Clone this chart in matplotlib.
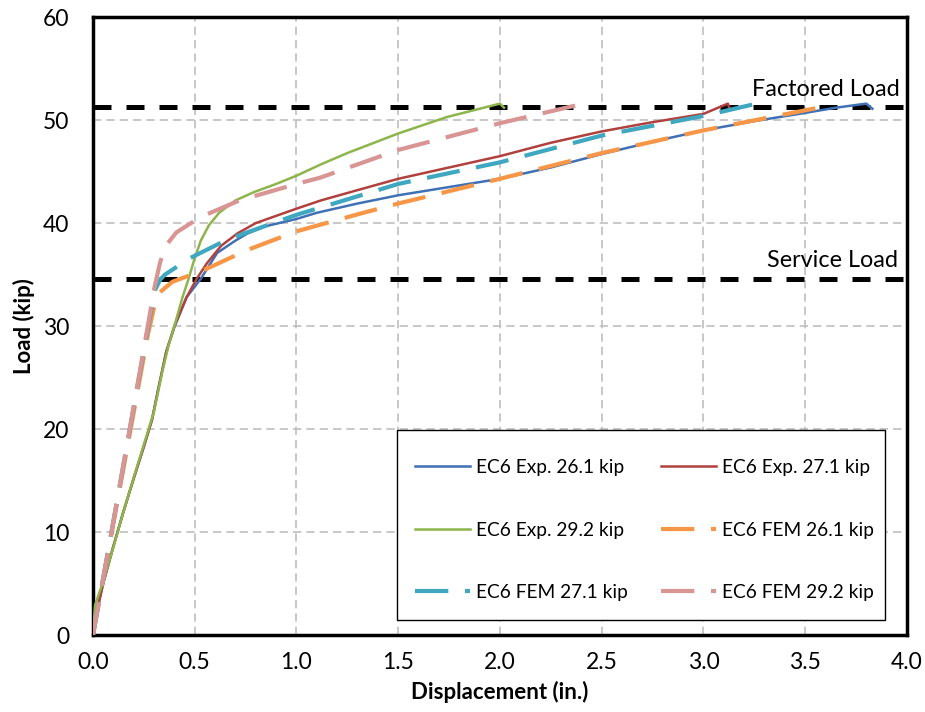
import matplotlib
matplotlib.use('Agg')
import matplotlib.pyplot as plt
from matplotlib.patches import Rectangle

plt.rcParams['font.family'] = ['Lato', 'DejaVu Sans']

# load levels (kip)
factored_load = 51.3
service_load = 34.6

# EC6 experiments, displacement (in.) vs load (kip)
exp261_x = [0, 0.02, 0.05, 0.10, 0.15, 0.20, 0.25, 0.29, 0.32, 0.36, 0.40, 0.46, 0.53, 0.61, 0.70, 0.76, 0.85, 1.00, 1.10, 1.30, 1.50, 1.75, 2.00, 2.25, 2.50, 2.75, 3.00, 3.25, 3.50, 3.65, 3.80, 3.83]
exp261_y = [0, 2.5, 5.0, 8.6, 12.0, 15.2, 18.3, 20.9, 23.8, 27.5, 29.9, 32.8, 34.6, 37.1, 38.3, 39.0, 39.7, 40.4, 41.0, 41.9, 42.7, 43.5, 44.3, 45.4, 46.7, 47.9, 49.0, 49.9, 50.7, 51.2, 51.6, 51.1]

exp271_x = [0, 0.02, 0.05, 0.10, 0.15, 0.20, 0.25, 0.29, 0.32, 0.36, 0.40, 0.46, 0.51, 0.56, 0.63, 0.71, 0.80, 1.00, 1.12, 1.30, 1.50, 1.75, 2.00, 2.25, 2.50, 2.75, 3.00, 3.12, 3.13]
exp271_y = [0, 2.3, 5.0, 8.6, 12.0, 15.2, 18.3, 20.9, 23.8, 27.5, 30.0, 32.8, 34.6, 36.1, 37.8, 39.0, 40.0, 41.4, 42.2, 43.2, 44.3, 45.4, 46.5, 47.8, 48.9, 49.8, 50.6, 51.6, 51.0]

exp292_x = [0, 0.01, 0.05, 0.10, 0.15, 0.20, 0.25, 0.30, 0.34, 0.37, 0.40, 0.44, 0.47, 0.50, 0.53, 0.57, 0.62, 0.70, 0.79, 0.90, 1.00, 1.12, 1.25, 1.50, 1.74, 2.00, 2.02]
exp292_y = [0, 2.9, 5.2, 8.5, 12.0, 15.3, 18.5, 21.7, 25.5, 28.0, 30.0, 32.8, 34.6, 36.6, 38.3, 39.8, 41.0, 42.2, 43.0, 43.8, 44.6, 45.7, 46.8, 48.7, 50.3, 51.6, 51.2]

# FEM results
fem261_x = [0, 0.10, 0.20, 0.27, 0.305, 0.33, 0.39, 0.54, 0.76, 1.00, 1.31, 1.50, 2.00, 2.50, 3.00, 3.59]
fem261_y = [0, 10.8, 21.6, 29.2, 32.2, 33.3, 34.3, 35.4, 37.4, 39.2, 40.9, 41.9, 44.3, 46.8, 49.0, 51.3]

fem271_x = [0, 0.10, 0.20, 0.28, 0.305, 0.33, 0.354, 0.477, 0.66, 0.885, 1.00, 1.50, 2.00, 2.50, 3.00, 3.24]
fem271_y = [0, 11.0, 22.1, 30.9, 33.5, 34.5, 35.0, 36.6, 38.4, 40.0, 40.8, 43.8, 45.9, 48.5, 50.4, 51.5]

fem292_x = [0, 0.10, 0.20, 0.28, 0.296, 0.33, 0.362, 0.41, 0.53, 0.72, 1.00, 1.115, 1.50, 2.00, 2.39, 2.43]
fem292_y = [0, 11.0, 22.2, 31.2, 33.2, 36.2, 37.9, 39.1, 40.6, 42.2, 43.8, 44.4, 47.1, 49.7, 51.5, 51.6]

fig = plt.figure(figsize=(9.25, 7.12), dpi=100)
ax = fig.add_axes([0.1005, 0.108, 0.880, 0.868])

ax.axhline(factored_load, color='black', lw=3.6, ls=(0, (3.6, 3.0)), zorder=2)
ax.axhline(service_load, color='black', lw=3.6, ls=(0, (3.6, 3.0)), zorder=2)

l1, = ax.plot(exp261_x, exp261_y, color='#4070B5', lw=1.8, label='EC6 Exp. 26.1 kip', zorder=3)
l2, = ax.plot(exp271_x, exp271_y, color='#B0413E', lw=1.8, label='EC6 Exp. 27.1 kip', zorder=3)
l3, = ax.plot(exp292_x, exp292_y, color='#8DB54B', lw=1.8, label='EC6 Exp. 29.2 kip', zorder=3)
dash = (0, (8, 4))
l4, = ax.plot(fem261_x, fem261_y, color='#F79646', lw=3.0, ls=dash, label='EC6 FEM 26.1 kip', zorder=4)
l5, = ax.plot(fem271_x, fem271_y, color='#3FA7BF', lw=3.0, ls=dash, label='EC6 FEM 27.1 kip', zorder=4)
l6, = ax.plot(fem292_x, fem292_y, color='#D89594', lw=3.0, ls=dash, label='EC6 FEM 29.2 kip', zorder=4)

ax.text(3.965, 53.0, 'Factored Load', ha='right', va='center', fontsize=16.8)
ax.text(3.955, 36.4, 'Service Load', ha='right', va='center', fontsize=16.8)

ax.set_xlim(0, 4)
ax.set_ylim(0, 60)
ax.set_xticks([0, 0.5, 1.0, 1.5, 2.0, 2.5, 3.0, 3.5, 4.0])
ax.set_xticklabels(['0.0', '0.5', '1.0', '1.5', '2.0', '2.5', '3.0', '3.5', '4.0'])
ax.set_yticks([0, 10, 20, 30, 40, 50, 60])
ax.tick_params(length=0, labelsize=16.5)
ax.tick_params(axis='x', pad=12)
ax.tick_params(axis='y', pad=17)
ax.grid(True, color='#BFBFBF', ls=(0, (5, 3)), lw=1.2, zorder=0)
ax.set_axisbelow(True)
for s in ax.spines.values():
    s.set_linewidth(2.5)
    s.set_color('black')

ax.set_xlabel('Displacement (in.)', fontsize=16, fontweight='bold', labelpad=6)
ax.set_ylabel('Load (kip)', fontsize=16, fontweight='bold', labelpad=6)

# legend box drawn on its own so the padding can match
box = Rectangle((0.373, 0.0243), 0.5995, 0.3074, transform=ax.transAxes,
                facecolor='white', edgecolor='black', lw=1.0, zorder=5)
ax.add_patch(box)

# column-first order so rows read like the original
handles = [l1, l3, l5, l2, l4, l6]
leg = ax.legend(handles=handles, labels=[h.get_label() for h in handles], ncol=2,
                loc='upper left', bbox_to_anchor=(0.3956, 0.2848),
                borderaxespad=0, borderpad=0, fontsize=13.8, frameon=False,
                handlelength=2.87, handletextpad=0.31,
                labelspacing=2.37, columnspacing=1.75)
leg.set_zorder(6)

plt.savefig('out.png', dpi=100)
